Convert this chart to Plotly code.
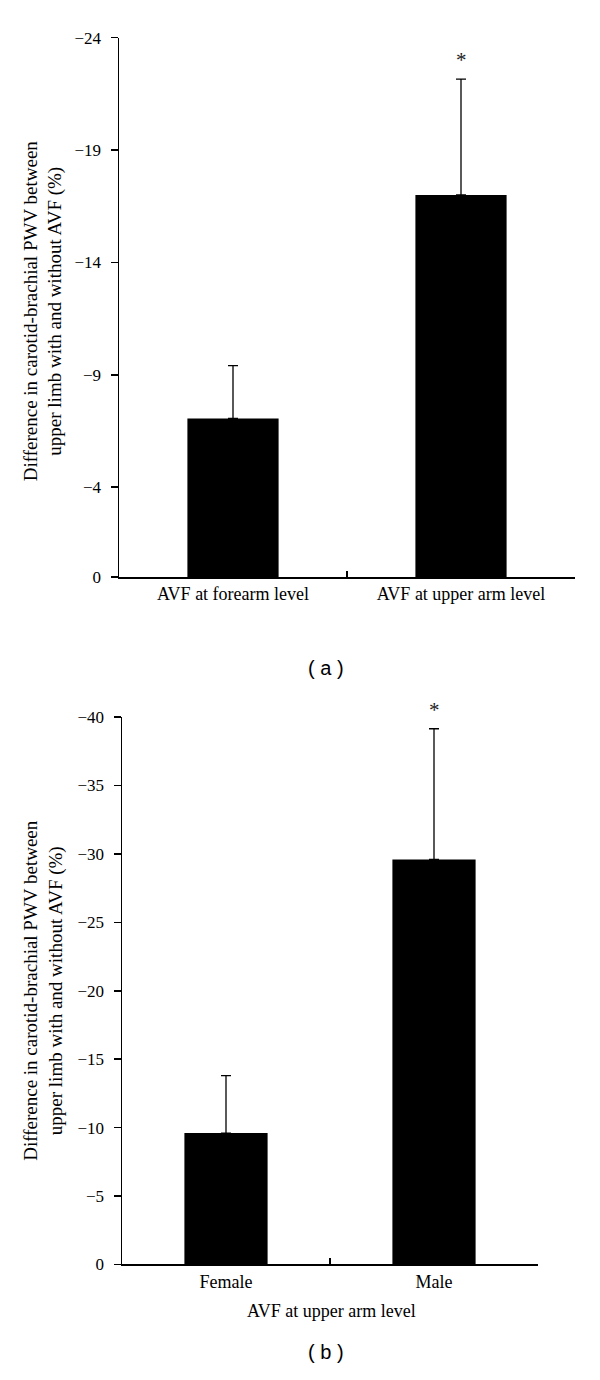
import plotly.graph_objects as go

# ---------------- data ----------------
cats_a = ["AVF at forearm level", "AVF at upper arm level"]
vals_a = [-7.06, -17.0]
err_a = [2.35, 5.15]
yticks_a = [0, -4, -9, -14, -19, -24]
sig_a = ["", "*"]

cats_b = ["Female", "Male"]
vals_b = [-9.6, -29.6]
err_b = [4.2, 9.55]
yticks_b = [0, -5, -10, -15, -20, -25, -30, -35, -40]
sig_b = ["", "*"]

ytitle = "Difference in carotid-brachial PWV between<br>upper limb with and without AVF (%)"
xtitle_b = "AVF at upper arm level"

SERIF = "Liberation Serif, Times New Roman, serif"
SANS = "Liberation Sans, Arial, sans-serif"

W, H = 600, 1380


def fx(px):
    return px / W


def fy(py):
    return 1 - py / H


fig = go.Figure()


def add_bars(cats, vals, errs, xa, ya):
    fig.add_trace(go.Bar(
        x=cats, y=vals, width=0.4,
        marker=dict(color="black", line=dict(width=0)),
        error_y=dict(type="data", symmetric=False,
                     array=[0] * len(errs), arrayminus=errs,
                     color="black", thickness=1.3, width=5),
        xaxis=xa, yaxis=ya, showlegend=False, hoverinfo="skip",
    ))


add_bars(cats_a, vals_a, err_a, "x", "y")
add_bars(cats_b, vals_b, err_b, "x2", "y2")

ax_common_x = dict(
    type="category", tickson="boundaries", ticks="inside", ticklen=6,
    tickwidth=1.5, tickcolor="black", showline=True, linecolor="black",
    linewidth=1.5, showgrid=False, zeroline=False,
    tickfont=dict(family=SERIF, size=18, color="black"),
)
ax_common_y = dict(
    ticks="outside", ticklen=7, tickwidth=1.5, tickcolor="black",
    showline=True, linecolor="black", linewidth=1.5, showgrid=False,
    zeroline=False, ticklabelstandoff=6,
    tickfont=dict(family=SERIF, size=17, color="black"),
)

fig.update_layout(
    width=W, height=H,
    margin=dict(l=0, r=0, t=0, b=0),
    paper_bgcolor="white", plot_bgcolor="white",
    xaxis=dict(domain=[fx(119), fx(575)], anchor="y", **ax_common_x),
    yaxis=dict(domain=[fy(576), fy(29)], anchor="x", range=[0, -24],
               tickvals=yticks_a, **ax_common_y),
    xaxis2=dict(domain=[fx(122), fx(538)], anchor="y2", **ax_common_x),
    yaxis2=dict(domain=[fy(1273), fy(718)], anchor="x2", range=[0, -40],
                tickvals=yticks_b, **ax_common_y),
)

annos = []
# significance asterisks
for cats, vals, errs, sigs, xr, yr in [
    (cats_a, vals_a, err_a, sig_a, "x", "y"),
    (cats_b, vals_b, err_b, sig_b, "x2", "y2"),
]:
    for c, v, e, s in zip(cats, vals, errs, sigs):
        if s:
            annos.append(dict(x=c, y=v - e, xref=xr, yref=yr, text=s,
                              showarrow=False, yanchor="bottom", yshift=5,
                              font=dict(family=SERIF, size=21, color="#222")))

# y-axis titles
for yc, xc in [((29 + 576) / 2 + 4, 43), ((718 + 1273) / 2, 44)]:
    annos.append(dict(x=fx(xc), y=fy(yc), xref="paper", yref="paper",
                      text=ytitle, textangle=-90, showarrow=False,
                      xanchor="center", yanchor="middle",
                      font=dict(family=SERIF, size=19, color="black")))

# bottom x title
annos.append(dict(x=fx(331), y=fy(1320), xref="paper", yref="paper",
                  text=xtitle_b, showarrow=False, xanchor="center",
                  yanchor="middle",
                  font=dict(family=SERIF, size=18, color="black")))

# panel labels
for lab, yc in [("( a )", 668), ("( b )", 1362)]:
    annos.append(dict(x=fx(326), y=fy(yc), xref="paper", yref="paper",
                      text=lab, showarrow=False, xanchor="center",
                      yanchor="middle",
                      font=dict(family=SANS, size=20, color="black")))

fig.update_layout(annotations=annos)

fig.write_html(
    "out.html",
    config={"displayModeBar": False, "staticPlot": True},
    post_script="document.body.style.margin='0';"
                "document.body.style.overflow='hidden';",
)
